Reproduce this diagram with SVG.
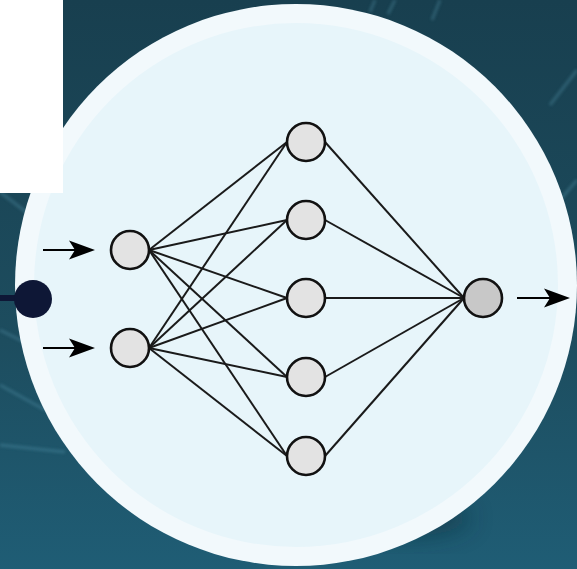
<svg xmlns="http://www.w3.org/2000/svg" width="577" height="569" viewBox="0 0 577 569">
  <defs>
    <linearGradient id="bg" x1="0" y1="0" x2="0" y2="1">
      <stop offset="0" stop-color="#183f4f"/>
      <stop offset="0.6" stop-color="#1d4d5f"/>
      <stop offset="1" stop-color="#1f5d75"/>
    </linearGradient>
    <filter id="blur" x="-50%" y="-50%" width="200%" height="200%">
      <feGaussianBlur stdDeviation="12"/>
    </filter>
    <filter id="blur2" x="-20%" y="-20%" width="140%" height="140%">
      <feGaussianBlur stdDeviation="1.5"/>
    </filter>
    <path id="head" d="M0,0 L-26,-9.5 L-20,0 L-26,9.5 Z" fill="#000"/>
  </defs>
  <style>
    .node { fill: #e3e3e3; stroke: #111; stroke-width: 2.6; }
    .out { fill: #c8c8c8; stroke: #111; stroke-width: 2.6; }
    .edge { stroke: #1a1a1a; stroke-width: 2; fill: none; }
    .arr { stroke: #000; stroke-width: 2.2; fill: none; }
    .streak { stroke: #5fa3b8; stroke-width: 3; opacity: 0.3; fill: none; }
  </style>

  <g id="background">
    <rect x="0" y="0" width="577" height="569" fill="url(#bg)"/>
    <g filter="url(#blur2)">
      <line class="streak" x1="0" y1="192" x2="30" y2="215"/>
      <line class="streak" x1="0" y1="330" x2="30" y2="345"/>
      <line class="streak" x1="0" y1="385" x2="45" y2="410"/>
      <line class="streak" x1="0" y1="445" x2="65" y2="452"/>
      <line class="streak" x1="375" y1="0" x2="370" y2="12"/>
      <line class="streak" x1="395" y1="0" x2="388" y2="14"/>
      <line class="streak" x1="440" y1="0" x2="432" y2="20"/>
      <line class="streak" x1="577" y1="70" x2="550" y2="105"/>
      <line class="streak" x1="577" y1="180" x2="560" y2="200"/>
    </g>
    <ellipse cx="400" cy="518" rx="70" ry="18" fill="#0f2d3a" opacity="0.55" filter="url(#blur)"/>
  </g>

  <g id="disc">
    <circle cx="296" cy="285" r="281" fill="#f2f9fc"/>
    <circle cx="296" cy="285" r="262" fill="#e7f5fa"/>
  </g>

  <g id="white-panel">
    <rect x="0" y="0" width="63" height="193" fill="#ffffff"/>
  </g>

  <g id="connector-dot">
    <rect x="0" y="295" width="30" height="6" fill="#0e1736"/>
    <circle cx="33" cy="299" r="19" fill="#0e1736"/>
  </g>

  <g id="connectors">
    <line class="edge" x1="149" y1="250" x2="287" y2="142"/>
    <line class="edge" x1="149" y1="250" x2="287" y2="220"/>
    <line class="edge" x1="149" y1="250" x2="287" y2="298"/>
    <line class="edge" x1="149" y1="250" x2="287" y2="377"/>
    <line class="edge" x1="149" y1="250" x2="287" y2="456"/>
    <line class="edge" x1="149" y1="348" x2="287" y2="142"/>
    <line class="edge" x1="149" y1="348" x2="287" y2="220"/>
    <line class="edge" x1="149" y1="348" x2="287" y2="298"/>
    <line class="edge" x1="149" y1="348" x2="287" y2="377"/>
    <line class="edge" x1="149" y1="348" x2="287" y2="456"/>
    <line class="edge" x1="325" y1="142" x2="464" y2="298"/>
    <line class="edge" x1="325" y1="220" x2="464" y2="298"/>
    <line class="edge" x1="325" y1="298" x2="464" y2="298"/>
    <line class="edge" x1="325" y1="377" x2="464" y2="298"/>
    <line class="edge" x1="325" y1="456" x2="464" y2="298"/>
    <line class="arr" x1="43" y1="250" x2="80" y2="250"/>
    <use href="#head" x="95" y="250"/>
    <line class="arr" x1="43" y1="348" x2="80" y2="348"/>
    <use href="#head" x="95" y="348"/>
    <line class="arr" x1="517" y1="298" x2="555" y2="298"/>
    <use href="#head" x="570" y="298"/>
  </g>

  <g id="input-1"><circle class="node" cx="130" cy="250" r="19"/></g>
  <g id="input-2"><circle class="node" cx="130" cy="348" r="19"/></g>
  <g id="hidden-1"><circle class="node" cx="306" cy="142" r="19"/></g>
  <g id="hidden-2"><circle class="node" cx="306" cy="220" r="19"/></g>
  <g id="hidden-3"><circle class="node" cx="306" cy="298" r="19"/></g>
  <g id="hidden-4"><circle class="node" cx="306" cy="377" r="19"/></g>
  <g id="hidden-5"><circle class="node" cx="306" cy="456" r="19"/></g>
  <g id="output"><circle class="out" cx="483" cy="298" r="19"/></g>
</svg>
